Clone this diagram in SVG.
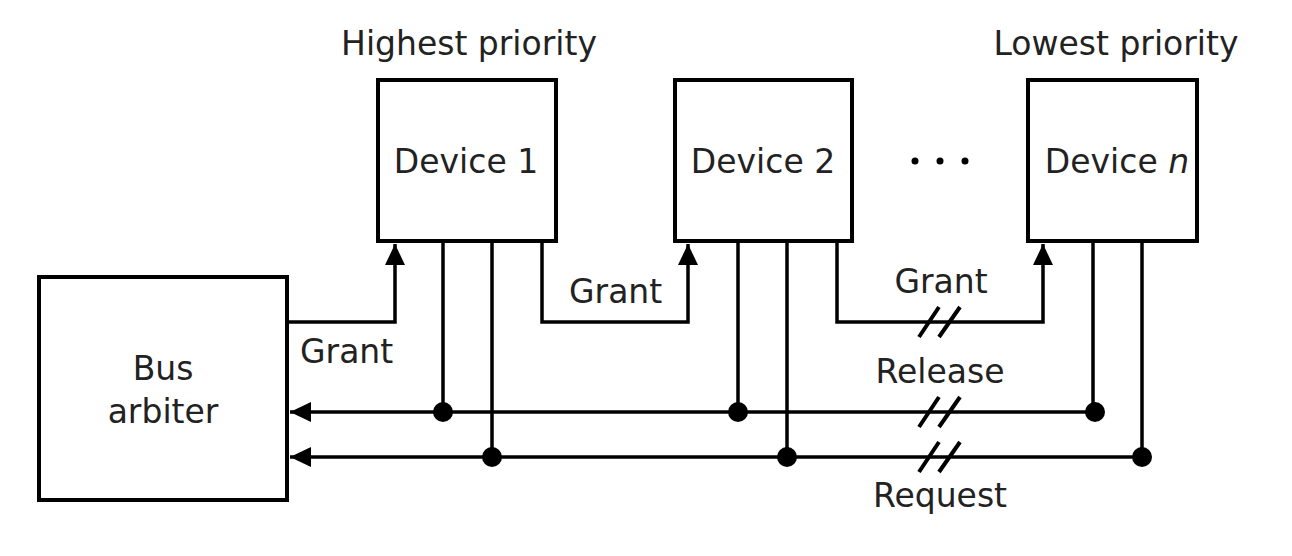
<svg xmlns="http://www.w3.org/2000/svg" width="1292" height="556" viewBox="0 0 1292 556">
<style>
.box{fill:#fff;stroke:#000;stroke-width:4}
.ln{fill:none;stroke:#000;stroke-width:3.5}
.sl{fill:none;stroke:#000;stroke-width:4}
.t{font-family:"DejaVu Sans",Verdana,sans-serif;font-size:33px;fill:#222}
.dot{fill:#000}
</style>
<defs>
<marker id="ah" markerUnits="userSpaceOnUse" markerWidth="22" markerHeight="22" viewBox="0 0 22 22" refX="21" refY="11" orient="auto">
<path d="M0,1 L21,11 L0,21 Z" fill="#000"/>
</marker>
</defs>
<rect width="1292" height="556" fill="#fff"/>
<text class="t" x="469" y="55" text-anchor="middle">Highest priority</text>
<text class="t" x="1116" y="55" text-anchor="middle">Lowest priority</text>
<g id="arbiter">
<rect class="box" x="39" y="277" width="248" height="223"/>
<text class="t" x="163" y="380" text-anchor="middle">Bus</text>
<text class="t" x="163" y="423" text-anchor="middle">arbiter</text>
</g>
<g id="device1">
<rect class="box" x="378" y="80" width="178" height="161"/>
<text class="t" x="466" y="173" text-anchor="middle">Device 1</text>
</g>
<g id="device2">
<rect class="box" x="675" y="80" width="177" height="161"/>
<text class="t" x="763" y="173" text-anchor="middle">Device 2</text>
</g>
<g id="ellipsis">
<circle class="dot" cx="915" cy="161" r="3.5"/>
<circle class="dot" cx="940" cy="161" r="3.5"/>
<circle class="dot" cx="965" cy="161" r="3.5"/>
</g>
<g id="devicen">
<rect class="box" x="1028" y="80" width="169" height="161"/>
<text class="t" x="1117" y="173" text-anchor="middle">Device <tspan font-style="italic">n</tspan></text>
</g>
<g id="connectors">
<path class="ln" d="M287,322 H395 V244" marker-end="url(#ah)"/>
<path class="ln" d="M542,241 V322 H688 V244" marker-end="url(#ah)"/>
<path class="ln" d="M837,241 V322 H1043 V244" marker-end="url(#ah)"/>
<path class="ln" d="M1093,412 H290" marker-end="url(#ah)"/>
<path class="ln" d="M1142,457 H290" marker-end="url(#ah)"/>
<path class="ln" d="M443,241 V412 M492,241 V457 M738,241 V412 M787,241 V457 M1093,241 V412 M1142,241 V457"/>
<circle class="dot" cx="443" cy="412" r="10"/>
<circle class="dot" cx="492" cy="457" r="10"/>
<circle class="dot" cx="738" cy="412" r="10"/>
<circle class="dot" cx="787" cy="457" r="10"/>
<circle class="dot" cx="1095" cy="412" r="10"/>
<circle class="dot" cx="1142" cy="457" r="10"/>
<path class="sl" d="M919,337 L939,307 M939,337 L960,307"/>
<path class="sl" d="M919,427 L939,397 M939,427 L960,397"/>
<path class="sl" d="M919,472 L939,442 M939,472 L960,442"/>
</g>
<text class="t" x="300" y="363">Grant</text>
<text class="t" x="569" y="303">Grant</text>
<text class="t" x="941" y="293" text-anchor="middle">Grant</text>
<text class="t" x="940" y="383" text-anchor="middle">Release</text>
<text class="t" x="940" y="507" text-anchor="middle">Request</text>
</svg>
